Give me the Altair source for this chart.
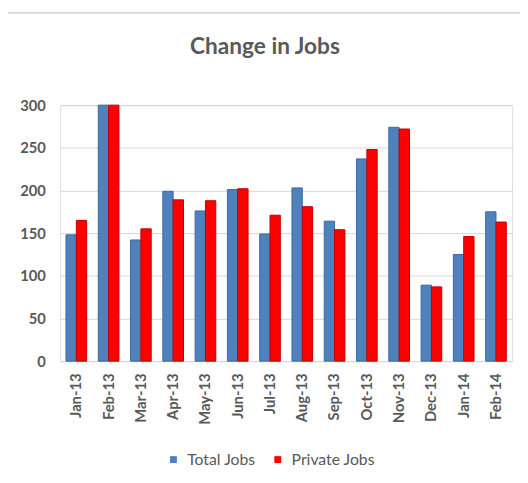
import altair as alt
import pandas as pd

months = ["Jan-13", "Feb-13", "Mar-13", "Apr-13", "May-13", "Jun-13", "Jul-13",
          "Aug-13", "Sep-13", "Oct-13", "Nov-13", "Dec-13", "Jan-14", "Feb-14"]
total_jobs = [148, 300, 142, 199, 176, 201, 149, 203, 164, 237, 274, 89, 125, 175]
private_jobs = [165, 300, 155, 189, 188, 202, 171, 181, 154, 248, 272, 87, 146, 163]
series = ["Total Jobs", "Private Jobs"]
title_text = ["Change in Jobs"]

rows = []
for m, t, p in zip(months, total_jobs, private_jobs):
    rows.append({"Month": m, "Series": series[0], "Value": t})
    rows.append({"Month": m, "Series": series[1], "Value": p})
df = pd.DataFrame(rows)

GRAY = "#595959"
FONT = "Lato"

bars = alt.Chart(df).mark_bar(strokeWidth=1).encode(
    x=alt.X("Month:N", sort=months,
            scale=alt.Scale(paddingInner=0.36, paddingOuter=0.18),
            axis=alt.Axis(title=None, labelAngle=-90, labelFontSize=15,
                          labelFontWeight="bold", labelColor=GRAY, labelFont=FONT,
                          ticks=False, domain=False, labelPadding=12)),
    xOffset=alt.XOffset("Series:N", sort=series),
    y=alt.Y("Value:Q", scale=alt.Scale(domain=[0, 300]),
            axis=alt.Axis(title=None, values=[0, 50, 100, 150, 200, 250, 300],
                          labelFontSize=15, labelFontWeight="bold", labelColor=GRAY,
                          labelFont=FONT, ticks=False, domain=False, labelPadding=15,
                          gridColor="#d6d6d6", gridWidth=1)),
    color=alt.Color("Series:N", sort=series,
                    scale=alt.Scale(domain=series, range=["#4F81BD", "#FF0000"]),
                    legend=alt.Legend(title=None, orient="none", direction="horizontal",
                                      legendX=107, legendY=352, symbolType="square",
                                      symbolSize=49, symbolStrokeWidth=0,
                                      labelFontSize=16, labelColor=GRAY, labelFont=FONT,
                                      columnPadding=14, labelOffset=6)),
    stroke=alt.Stroke("Series:N", sort=series,
                      scale=alt.Scale(domain=series, range=["#3d6a9e", "#c00000"]),
                      legend=None),
)

title = alt.Chart(pd.DataFrame({"t": title_text})).mark_text(
    font=FONT, fontSize=23, fontWeight="bold", color=GRAY,
    align="center", baseline="alphabetic"
).encode(text="t:N", x=alt.value(208), y=alt.value(-52))

frame_left = alt.Chart(df).mark_rule(color="#d9d9d9", strokeWidth=1).encode(
    x=alt.value(-53.5), y=alt.value(-94), y2=alt.value(372)
)
frame_top = alt.Chart(df).mark_rule(color="#d9d9d9", strokeWidth=1).encode(
    x=alt.value(-53.5), x2=alt.value(467), y=alt.value(-94)
)

chart = alt.layer(bars, title, frame_left, frame_top).properties(
    width=459, height=260,
    autosize=alt.AutoSizeParams(type="none"),
    padding={"left": 53, "top": 95, "right": 8, "bottom": 112},
).configure_view(stroke=None).configure(background="white")

chart.save("out.html", embed_options={"renderer": "svg", "actions": False})
